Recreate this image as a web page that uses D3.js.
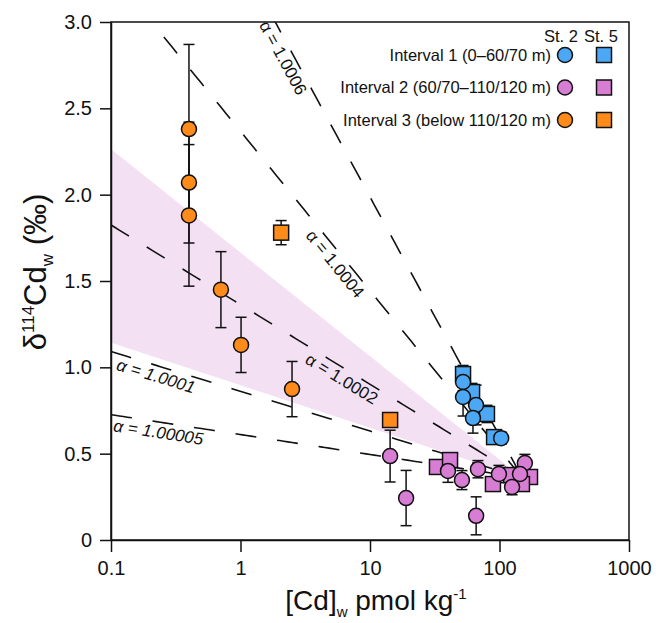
<!DOCTYPE html>
<html>
<head>
<meta charset="utf-8">
<script src="https://cdn.jsdelivr.net/npm/d3@7"></script>
<style>
  body { margin: 0; background: #fff; }
  text { font-family: "Liberation Sans", Arial, sans-serif; fill: #111; }
</style>
</head>
<body>
<script>

// Interval 1 (0-60/70 m)
var st2Int1 = [
  {cd: 52.3, d: 0.915, err: 0.05},
  {cd: 52.3, d: 0.828, err: 0.11},
  {cd: 65.9, d: 0.782, err: 0.115},
  {cd: 62.4, d: 0.706, err: 0.087},
  {cd: 103, d: 0.59, err: 0.035}
];
var st5Int1 = [
  {cd: 52.3, d: 0.961, err: 0.05},
  {cd: 61.4, d: 0.857, err: 0.05},
  {cd: 80, d: 0.73, err: 0.05},
  {cd: 90.8, d: 0.596, err: 0.04}
];

// Interval 2 (60/70-110/120 m)
var st2Int2 = [
  {cd: 14.3, d: 0.486, err: 0.15},
  {cd: 19.0, d: 0.243, err: 0.16},
  {cd: 66, d: 0.14, err: 0.11},
  {cd: 40, d: 0.40, err: 0.066},
  {cd: 51.3, d: 0.347, err: 0.055},
  {cd: 68.2, d: 0.41, err: 0.05},
  {cd: 99, d: 0.382, err: 0.05},
  {cd: 157, d: 0.446, err: 0.05},
  {cd: 144, d: 0.382, err: 0.04},
  {cd: 125, d: 0.307, err: 0.045}
];
var st5Int2 = [
  {cd: 32.9, d: 0.423, err: 0.03},
  {cd: 41.5, d: 0.463, err: 0.035},
  {cd: 89, d: 0.324, err: 0.03},
  {cd: 123, d: 0.376, err: 0.03},
  {cd: 172, d: 0.365, err: 0.03},
  {cd: 149, d: 0.324, err: 0.03}
];

// Interval 3 (below 110/120 m)
var st2Int3 = [
  {cd: 0.40, d: 2.38, err: 0.49},
  {cd: 0.40, d: 2.07, err: 0.35},
  {cd: 0.40, d: 1.88, err: 0.41},
  {cd: 0.706, d: 1.45, err: 0.22},
  {cd: 1.01, d: 1.13, err: 0.16},
  {cd: 2.5, d: 0.874, err: 0.16}
];
var st5Int3 = [
  {cd: 2.06, d: 1.78, err: 0.07},
  {cd: 14.3, d: 0.695, err: 0.04}
];

// Rayleigh curves, all starting from the same point
var alphas = [1.0006, 1.0004, 1.0002, 1.0001, 1.00005];
var alphaLabels = ["α = 1.0006", "α = 1.0004", "α = 1.0002", "α = 1.0001", "α = 1.00005"];
var labelCd = [2.5, 6.19, 6.64, 0.235, 0.239];
var labelItalic = [false, false, false, true, true];
var cdStart = 150;
var deltaStart = 0.36;

// shaded alpha range
var bandAlphas = [1.000107, 1.00026];

var xTicks = [0.1, 1, 10, 100, 1000];
var yTicks = [0, 0.5, 1.0, 1.5, 2.0, 2.5, 3.0];

var intervalNames = ["Interval 1 (0–60/70 m)", "Interval 2 (60/70–110/120 m)", "Interval 3 (below 110/120 m)"];
var intervalColors = ["#4CA8F4", "#D87DD4", "#FF8C1A"];

// Rayleigh model
function rayleigh(c, a) {
  return (deltaStart + 1000) * Math.pow(c / cdStart, 1 - a) - 1000;
}

var width = 656, height = 623;
var plotLeft = 111, plotRight = 629, plotTop = 22, plotBottom = 540;

var svg = d3.select("body").append("svg")
  .attr("width", width)
  .attr("height", height);

var x = d3.scaleLog().domain([0.1, 1000]).range([plotLeft, plotRight]);
var y = d3.scaleLinear().domain([0, 3]).range([plotBottom, plotTop]);

svg.append("clipPath").attr("id", "clip")
  .append("rect")
  .attr("x", plotLeft).attr("y", plotTop)
  .attr("width", plotRight - plotLeft).attr("height", plotBottom - plotTop);

var plot = svg.append("g").attr("clip-path", "url(#clip)");

// sample c values on log scale for the curves
var cSamples = d3.range(0, 101).map(function(i) {
  return Math.pow(10, -1 + i * (Math.log10(cdStart) + 1) / 100);
});

// Band
plot.append("path")
  .datum(cSamples)
  .attr("fill", "#F3E0F3")
  .attr("d", d3.area()
    .x(function(c) { return x(c); })
    .y0(function(c) { return y(rayleigh(c, bandAlphas[0])); })
    .y1(function(c) { return y(rayleigh(c, bandAlphas[1])); }));

// Dashed lines
var line = d3.line()
  .x(function(d) { return x(d.c); })
  .y(function(d) { return y(d.d); });

alphas.forEach(function(a, i) {
  var pts = cSamples.map(function(c) {
    return {c: c, d: rayleigh(c, a)};
  });
  plot.append("path")
    .datum(pts)
    .attr("fill", "none")
    .attr("stroke", "#111")
    .attr("stroke-width", 1.6)
    .attr("stroke-dasharray", "21,21")
    .attr("d", line);

  // label along the line
  var c = labelCd[i];
  var px = x(c), py = y(rayleigh(c, a));
  var px2 = x(c * 1.1), py2 = y(rayleigh(c * 1.1, a));
  var angle = Math.atan2(py2 - py, px2 - px) * 180 / Math.PI;
  svg.append("text")
    .attr("transform", "translate(" + px + "," + py + ") rotate(" + angle + ")")
    .attr("y", 16)
    .attr("text-anchor", "middle")
    .style("font-size", "17px")
    .style("font-style", labelItalic[i] ? "italic" : "normal")
    .text(alphaLabels[i]);
});

// Frame
svg.append("rect")
  .attr("x", plotLeft).attr("y", plotTop)
  .attr("width", plotRight - plotLeft).attr("height", plotBottom - plotTop)
  .attr("fill", "none")
  .attr("stroke", "#111")
  .attr("stroke-width", 1.5);

// Axes
var xAxis = d3.axisBottom(x)
  .tickValues(xTicks)
  .tickSize(12)
  .tickSizeOuter(0)
  .tickFormat(function(d) { return d; });
var yAxis = d3.axisLeft(y)
  .tickValues(yTicks)
  .tickSize(11)
  .tickSizeOuter(0)
  .tickFormat(function(d) { return d === 0 ? "0" : d.toFixed(1); });

var gx = svg.append("g")
  .attr("transform", "translate(0," + plotBottom + ")")
  .call(xAxis);
var gy = svg.append("g")
  .attr("transform", "translate(" + plotLeft + ",0)")
  .call(yAxis);

[gx, gy].forEach(function(g) {
  g.select(".domain").attr("stroke", "#111").attr("stroke-width", 1.5);
  g.selectAll(".tick line").attr("stroke", "#111").attr("stroke-width", 1.5);
  g.selectAll(".tick text")
    .style("font-family", "'Liberation Sans', Arial, sans-serif")
    .style("font-size", "20px")
    .attr("fill", "#111");
});
gx.selectAll(".tick text").attr("dy", "1.0em");
gy.selectAll(".tick text").attr("x", -19);

// Axis titles
var xt = svg.append("text")
  .attr("x", 376).attr("y", 610)
  .attr("text-anchor", "middle")
  .style("font-size", "28px");
xt.append("tspan").text("[Cd]");
xt.append("tspan").attr("dy", 7).style("font-size", "15px").text("w");
xt.append("tspan").attr("dy", -7).text(" pmol kg");
xt.append("tspan").attr("dy", -11).style("font-size", "15px").text("-1");

var yt = svg.append("text")
  .attr("transform", "translate(46,272) rotate(-90)")
  .attr("text-anchor", "middle")
  .style("font-size", "31px");
yt.append("tspan").text("δ");
yt.append("tspan").attr("dy", -12).style("font-size", "17px").text("114");
yt.append("tspan").attr("dy", 12).text("Cd");
yt.append("tspan").attr("dy", 7).style("font-size", "17px").text("w");
yt.append("tspan").attr("dy", -7).text(" (‰)");

// Error bars, squares and circles
var series = [
  {data: st5Int1, color: intervalColors[0], shape: "square"},
  {data: st5Int2, color: intervalColors[1], shape: "square"},
  {data: st5Int3, color: intervalColors[2], shape: "square"},
  {data: st2Int1, color: intervalColors[0], shape: "circle"},
  {data: st2Int2, color: intervalColors[1], shape: "circle"},
  {data: st2Int3, color: intervalColors[2], shape: "circle"}
];

var errG = svg.append("g");
series.forEach(function(s) {
  s.data.forEach(function(d) {
    var cx = x(d.cd);
    errG.append("line")
      .attr("x1", cx).attr("x2", cx)
      .attr("y1", y(d.d - d.err)).attr("y2", y(d.d + d.err))
      .attr("stroke", "#111").attr("stroke-width", 1.5);
    [d.d - d.err, d.d + d.err].forEach(function(v) {
      errG.append("line")
        .attr("x1", cx - 5.5).attr("x2", cx + 5.5)
        .attr("y1", y(v)).attr("y2", y(v))
        .attr("stroke", "#111").attr("stroke-width", 1.5);
    });
  });
});

series.forEach(function(s) {
  var g = svg.append("g");
  if (s.shape === "square") {
    g.selectAll("rect").data(s.data).enter().append("rect")
      .attr("x", function(d) { return x(d.cd) - 7.5; })
      .attr("y", function(d) { return y(d.d) - 7.5; })
      .attr("width", 15).attr("height", 15)
      .attr("fill", s.color)
      .attr("stroke", "#111").attr("stroke-width", 1.5);
  } else {
    g.selectAll("circle").data(s.data).enter().append("circle")
      .attr("cx", function(d) { return x(d.cd); })
      .attr("cy", function(d) { return y(d.d); })
      .attr("r", 7.5)
      .attr("fill", s.color)
      .attr("stroke", "#111").attr("stroke-width", 1.5);
  }
});

// Legend
var legend = svg.append("g");
legend.append("text").attr("x", 561).attr("y", 42).attr("text-anchor", "middle")
  .style("font-size", "16.5px").text("St. 2");
legend.append("text").attr("x", 601).attr("y", 42).attr("text-anchor", "middle")
  .style("font-size", "16.5px").text("St. 5");
intervalNames.forEach(function(name, i) {
  var ly = 55 + i * 32.5;
  legend.append("text")
    .attr("x", 551).attr("y", ly)
    .attr("dy", "0.35em")
    .attr("text-anchor", "end")
    .style("font-size", "16.5px")
    .text(name);
  legend.append("circle")
    .attr("cx", 565).attr("cy", ly).attr("r", 7.5)
    .attr("fill", intervalColors[i])
    .attr("stroke", "#111").attr("stroke-width", 1.5);
  legend.append("rect")
    .attr("x", 604 - 7.5).attr("y", ly - 7.5)
    .attr("width", 15).attr("height", 15)
    .attr("fill", intervalColors[i])
    .attr("stroke", "#111").attr("stroke-width", 1.5);
});

</script>
</body>
</html>
